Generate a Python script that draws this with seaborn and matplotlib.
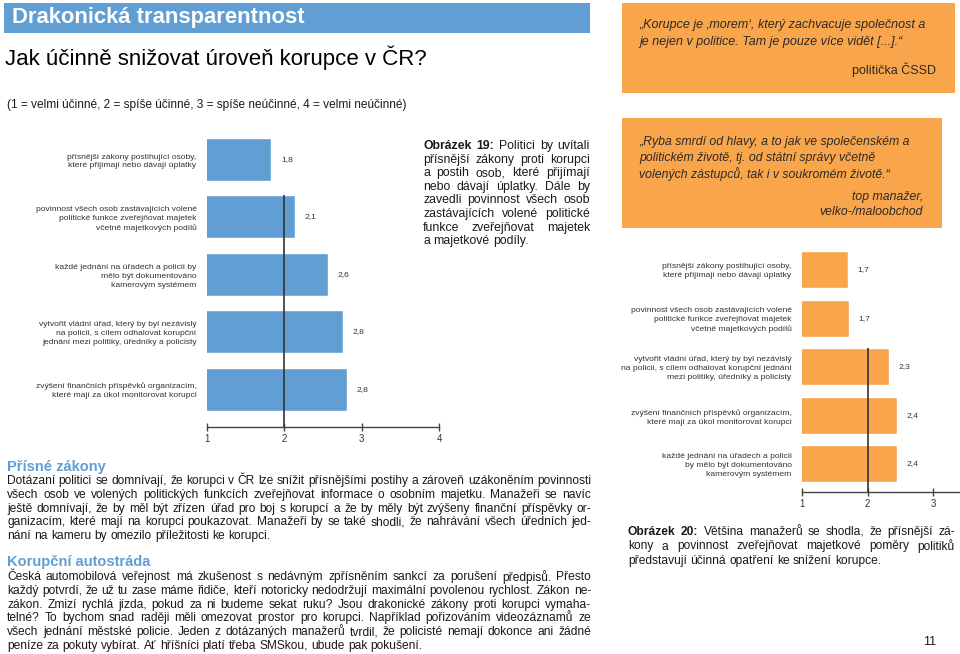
import matplotlib
matplotlib.use("Agg")
import matplotlib.pyplot as plt
import seaborn as sns
import pandas as pd
from matplotlib.patches import Rectangle

# ---------------- data ----------------
pol_categories = [
    "přísnější zákony postihující osoby,\nkteré přijímají nebo dávají úplatky",
    "povinnost všech osob zastávajících volené\npolitické funkce zveřejňovat majetek\nvčetně majetkových podílů",
    "každé jednání na úřadech a policii by\nmělo být dokumentováno\nkamerovým systémem",
    "vytvořit vládní úřad, který by byl nezávislý\nna policii, s cílem odhalovat korupční\njednání mezi politiky, úředníky a policisty",
    "zvýšení finančních příspěvků organizacím,\nkteré mají za úkol monitorovat korupci",
]
pol_values = [1.83, 2.14, 2.56, 2.76, 2.81]

man_categories = [
    "přísnější zákony postihující osoby,\nkteré přijímají nebo dávají úplatky",
    "povinnost všech osob zastávajících volené\npolitické funkce zveřejňovat majetek\nvčetně majetkových podílů",
    "vytvořit vládní úřad, který by byl nezávislý\nna policii, s cílem odhalovat korupční jednání\nmezi politiky, úředníky a policisty",
    "zvýšení finančních příspěvků organizacím,\nkteré mají za úkol monitorovat korupci",
    "každé jednání na úřadech a policii\nby mělo být dokumentováno\nkamerovým systémem",
]
man_values = [1.70, 1.71, 2.32, 2.44, 2.44]

pol_ticks = [1, 2, 3, 4]
man_ticks = [1, 2, 3]

# ---------------- style ----------------
W, H, DPI = 960, 654, 100
BLUE = "#609ED3"
ORANGE = "#F9A54B"
DARK = "#333333"
TXT = "#1a1a1a"
QTXT = "#2a2a2a"
BODY = 8.65
LAB = 6.1

sns.set_theme(style="white")
plt.rcParams['font.family'] = ['Liberation Sans', 'DejaVu Sans']

fig = plt.figure(figsize=(W / DPI, H / DPI), dpi=DPI)
fig.patch.set_facecolor("white")
renderer = fig.canvas.get_renderer()


def fx(px):
    return px / W


def fy(py):
    return 1 - py / H


def rect(x0, y0, x1, y1, color):
    fig.add_artist(Rectangle((fx(x0), fy(y1)), (x1 - x0) / W, (y1 - y0) / H,
                             transform=fig.transFigure, color=color, lw=0, zorder=0))


def txt(x, y, s, size, **kw):
    kw.setdefault("va", "center")
    kw.setdefault("color", TXT)
    return fig.text(fx(x), fy(y), s, fontsize=size, **kw)


def justify_line(segments, x0, x1, y, size, color=TXT, justify=True):
    words = []
    for text, weight in segments:
        for w in text.split():
            words.append((w, weight))
    objs, widths = [], []
    for w, weight in words:
        t = fig.text(0, fy(y), w, fontsize=size, fontweight=weight, color=color,
                     va="center", ha="left")
        objs.append(t)
        widths.append(t.get_window_extent(renderer).width)
    probe = fig.text(0, 0, "a a", fontsize=size)
    probe2 = fig.text(0, 0, "aa", fontsize=size)
    space = probe.get_window_extent(renderer).width - probe2.get_window_extent(renderer).width
    probe.remove()
    probe2.remove()
    if justify and len(words) > 1:
        gap = (x1 - x0 - sum(widths)) / (len(words) - 1)
    else:
        gap = space
    x = x0
    for t, wd in zip(objs, widths):
        t.set_x(fx(x))
        x += wd + gap


def bar_chart(categories, values, ticks, color, left, right, xmax, c0, pitch, top, bottom,
              width, line_from_bar):
    ax = fig.add_axes([fx(left), fy(bottom), (right - left) / W, (bottom - top) / H])
    df = pd.DataFrame({"kategorie": categories, "hodnota": values})
    sns.barplot(data=df, x="hodnota", y="kategorie", orient="h", color=color,
                saturation=1, width=width, ax=ax)
    ylo = (bottom - c0) / pitch
    yhi = (top - c0) / pitch
    ax.set_xlim(1, xmax)
    ax.set_ylim(ylo, yhi)
    ax.set_xlabel("")
    ax.set_ylabel("")
    for s in ["left", "top", "right"]:
        ax.spines[s].set_visible(False)
    ax.spines["bottom"].set_color("#444444")
    ax.spines["bottom"].set_linewidth(1.0)
    ax.set_facecolor("none")
    ax.set_xticks(ticks)
    ax.set_xticklabels([str(t) for t in ticks])
    ax.tick_params(axis="x", bottom=True, direction="inout", length=6, width=1.0,
                   color="#444444", labelsize=6.9, labelcolor=DARK, pad=2)
    ax.tick_params(axis="y", left=False, length=0, labelsize=LAB, labelcolor=DARK, pad=7.5)
    for lab in ax.get_yticklabels():
        lab.set_linespacing(1.38)
    ax.vlines(2, line_from_bar - width / 2, ylo, color=DARK, lw=1.2, zorder=5)
    labels = [f"{v:.1f}".replace(".", ",") for v in values]
    ax.bar_label(ax.containers[0], labels=labels, padding=7, fontsize=LAB, color=DARK)
    return ax


# ---------------- header ----------------
rect(4, 3, 590, 33, BLUE)
txt(12, 18, "Drakonická transparentnost", 15.8, color="white", fontweight="bold")
txt(5, 58, "Jak účinně snižovat úroveň korupce v ČR?", 16, color="black")
txt(7, 105, "(1 = velmi účinné, 2 = spíše účinné, 3 = spíše neúčinné, 4 = velmi neúčinné)", 8.6)

# quote box 1
rect(622, 3, 955, 93, ORANGE)
txt(639, 25, "„Korupce je ‚morem‘, který zachvacuje společnost a", 9.0, style="italic", color=QTXT)
txt(639, 42, "je nejen v politice. Tam je pouze více vidět [...].“", 9.0, style="italic", color=QTXT)
txt(936, 70, "politička ČSSD", 9.0, ha="right", color=QTXT)

# quote box 2
rect(622, 118, 942, 228, ORANGE)
txt(639, 142, "„Ryba smrdí od hlavy, a to jak ve společenském a", 8.85, style="italic", color=QTXT)
txt(639, 158, "politickém životě, tj. od státní správy včetně", 8.85, style="italic", color=QTXT)
txt(639, 174, "volených zástupců, tak i v soukromém životě.“", 8.85, style="italic", color=QTXT)
txt(923, 197, "top manažer,", 8.85, ha="right", style="italic", color=QTXT)
txt(923, 212, "velko-/maloobchod", 8.85, ha="right", style="italic", color=QTXT)

# ---------------- charts ----------------
bar_chart(pol_categories, pol_values, pol_ticks, BLUE, 207, 439, 4, 159.5, 57.4, 131, 427, 0.75, 1)
bar_chart(man_categories, man_values, man_ticks, ORANGE, 802, 960, 1 + 158 / 65.7, 269.5, 48.6, 245, 492, 0.76, 2)

# ---------------- caption 19 ----------------
cap19 = [
    [("Obrázek 19:", "bold"), ("Politici by uvítali", "normal")],
    [("přísnější zákony proti korupci", "normal")],
    [("a postih osob, které přijímají", "normal")],
    [("nebo dávají úplatky. Dále by", "normal")],
    [("zavedli povinnost všech osob", "normal")],
    [("zastávajících volené politické", "normal")],
    [("funkce zveřejňovat majetek", "normal")],
    [("a majetkové podíly.", "normal")],
]
for i, seg in enumerate(cap19):
    justify_line(seg, 423, 590, 146 + i * 13.6, 8.8, justify=(i < len(cap19) - 1))

# ---------------- caption 20 ----------------
cap20 = [
    [("Obrázek 20:", "bold"), ("Většina manažerů se shodla, že přísnější zá-", "normal")],
    [("kony a povinnost zveřejňovat majetkové poměry politiků", "normal")],
    [("představují účinná opatření ke snížení korupce.", "normal")],
]
for i, seg in enumerate(cap20):
    justify_line(seg, 628, 955, 532 + i * 14.5, BODY, justify=(i < len(cap20) - 1))

# ---------------- body text ----------------
txt(7, 467, "Přísné zákony", 10.5, color=BLUE, fontweight="bold")
para1 = [
    "Dotázaní politici se domnívají, že korupci v ČR lze snížit přísnějšími postihy a zároveň uzákoněním povinnosti",
    "všech osob ve volených politických funkcích zveřejňovat informace o osobním majetku. Manažeři se navíc",
    "ještě domnívají, že by měl být zřízen úřad pro boj s korupcí a že by měly být zvýšeny finanční příspěvky or-",
    "ganizacím, které mají na korupci poukazovat. Manažeři by se také shodli, že nahrávání všech úředních jed-",
    "nání na kameru by omezilo příležitosti ke korupci.",
]
for i, line in enumerate(para1):
    justify_line([(line, "normal")], 7, 591, 481 + i * 13.8, BODY, justify=(i < len(para1) - 1))

txt(7, 562, "Korupční autostráda", 10.5, color=BLUE, fontweight="bold")
para2 = [
    "Česká automobilová veřejnost má zkušenost s nedávným zpřísněním sankcí za porušení předpisů. Přesto",
    "každý potvrdí, že už tu zase máme řidiče, kteří notoricky nedodržují maximální povolenou rychlost. Zákon ne-",
    "zákon. Zmizí rychlá jízda, pokud za ni budeme sekat ruku? Jsou drakonické zákony proti korupci vymaha-",
    "telné? To bychom snad raději měli omezovat prostor pro korupci. Například pořizováním videozáznamů ze",
    "všech jednání městské policie. Jeden z dotázaných manažerů tvrdil, že policisté nemají dokonce ani žádné",
    "peníze za pokuty vybírat. Ať hříšníci platí třeba SMSkou, ubude pak pokušení.",
]
for i, line in enumerate(para2):
    justify_line([(line, "normal")], 7, 591, 577 + i * 13.8, BODY, justify=(i < len(para2) - 1))

txt(930, 642, "11", 9, ha="center")

fig.savefig("out.png", dpi=DPI, facecolor="white")
